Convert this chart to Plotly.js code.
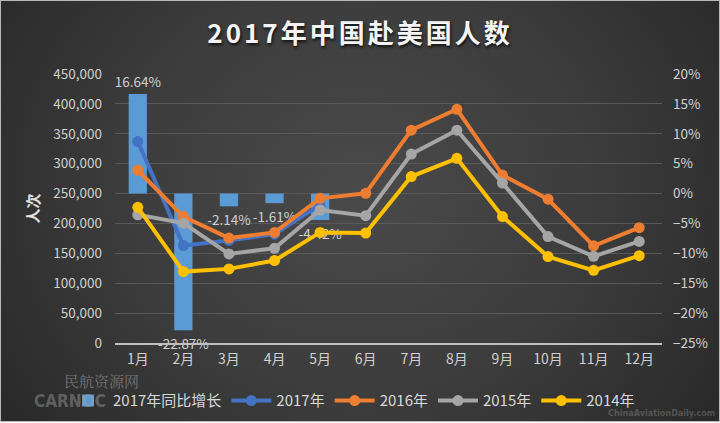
<!DOCTYPE html>
<html>
<head>
<meta charset="utf-8">
<script src="https://cdn.plot.ly/plotly-3.0.1.min.js"></script>
<style>
  html, body { margin: 0; padding: 0; background: #fff; }
  #frame {
    position: absolute; left: 0; top: 0; width: 718px; height: 420px;
    border: 1px solid #b8b8b8;
    background: radial-gradient(ellipse 60% 90% at 50% 45%, #4a4a4a 0%, #3c3c3c 55%, #2a2a2a 100%);
  }
  #chart { width: 718px; height: 420px; }
  .gtitle { letter-spacing: 3px; }
</style>
</head>
<body>
<div id="frame"><div id="chart"></div></div>
<script>
// 月份
var months = ['1月','2月','3月','4月','5月','6月','7月','8月','9月','10月','11月','12月'];

// 2017年同比增长 (%)，只有1-5月
var growth2017 = [16.64, -22.87, -2.14, -1.61, -4.42];

// 各年赴美人数
var y2017 = [337000, 163000, 171500, 182000, 231000];
var y2016 = [289000, 211500, 175500, 185000, 242000, 250500, 356000, 391000, 281000, 240500, 162500, 193000];
var y2015 = [214500, 200500, 149000, 158500, 222500, 213000, 316000, 356000, 267500, 178000, 145000, 170000];
var y2014 = [227000, 119500, 124000, 138000, 185000, 184000, 278500, 309000, 211500, 144500, 121500, 146000];

var gridColor = '#595959';
var tickColor = '#d0d0d0';
var cjk = '"Noto Sans CJK SC", "Noto Sans", sans-serif';
var narrow = '"Liberation Sans Narrow", "DejaVu Sans Condensed", sans-serif';

function lineTrace(name, vals, color) {
  return {
    type: 'scatter', mode: 'lines+markers', name: name,
    x: months.slice(0, vals.length), y: vals, yaxis: 'y2',
    line: { color: color, width: 4 },
    marker: { color: color, size: 11 }
  };
}

var data = [
  {
    type: 'bar', name: '2017年同比增长',
    x: months.slice(0, growth2017.length), y: growth2017,
    marker: { color: '#5b9bd5' },
    texttemplate: '%{y:.2f}%', textposition: 'outside', constraintext: 'none',
    textfont: { color: '#d0d0d0', size: 13.5, family: cjk },
    cliponaxis: false
  },
  lineTrace('2017年', y2017, '#4472c4'),
  lineTrace('2016年', y2016, '#ed7d31'),
  lineTrace('2015年', y2015, '#a5a5a5'),
  lineTrace('2014年', y2014, '#ffc000')
];

var layout = {
  width: 718, height: 420,
  margin: { l: 114, r: 57, t: 73, b: 78, autoexpand: false },
  paper_bgcolor: 'rgba(0,0,0,0)',
  plot_bgcolor: 'rgba(0,0,0,0)',
  font: { family: cjk, color: tickColor, size: 14 },
  title: {
    text: '<b>2017年中国赴美国人数</b>',
    x: 0.5, xanchor: 'center', xref: 'container',
    y: 0.922, yanchor: 'middle',
    font: { size: 26, color: '#f4f4f4', family: cjk, shadow: '1px 2px 3px #111' }
  },
  bargap: 0.6,
  showlegend: true,
  legend: {
    orientation: 'h', x: -0.095, xanchor: 'left',
    y: -0.215, yanchor: 'middle',
    font: { size: 15, color: '#d8d8d8' }, bgcolor: 'rgba(0,0,0,0)',
    itemwidth: 40, tracegroupgap: 0
  },
  xaxis: {
    type: 'category', range: [-0.5, 11.5], showgrid: false, showline: true,
    linecolor: '#bfbfbf', linewidth: 1.5, ticks: '', ticklabelstandoff: 3,
    tickfont: { size: 14, color: tickColor }
  },
  yaxis: {
    side: 'right', range: [-25, 20], dtick: 5, ticksuffix: '%',
    showgrid: false, zeroline: false, showline: false, ticklabelstandoff: 10,
    tickfont: { size: 13.5, color: tickColor }
  },
  yaxis2: {
    overlaying: 'y', side: 'left', range: [0, 450000], dtick: 50000,
    tickformat: ',d', showgrid: true, gridcolor: gridColor, gridwidth: 1,
    zeroline: false, showline: false, ticklen: 0, ticklabelstandoff: 12,
    tickfont: { size: 13.5, color: tickColor },
    title: { text: '<b>人次</b>', font: { size: 15, color: '#e0e0e0' }, standoff: 10 }
  },
  annotations: [
    { xref: 'paper', yref: 'paper', x: -0.097, y: -0.141, xanchor: 'left', yanchor: 'middle', showarrow: false,
      text: '民航资源网', font: { size: 15, color: 'rgba(170,170,170,0.55)', family: '"Noto Serif CJK SC", ' + cjk } },
    { xref: 'paper', yref: 'paper', x: -0.152, y: -0.216, xanchor: 'left', yanchor: 'middle', showarrow: false,
      text: '<b>CARNOC</b>', font: { size: 17, color: 'rgba(160,160,160,0.45)', family: narrow } },
    { xref: 'paper', yref: 'paper', x: 1.1, y: -0.262, xanchor: 'right', yanchor: 'middle', showarrow: false,
      text: '<b>ChinaAviationDaily.com</b>', font: { size: 9, color: 'rgba(160,160,160,0.35)', family: narrow } }
  ]
};

Plotly.newPlot('chart', data, layout, { displayModeBar: false, staticPlot: true });
</script>
</body>
</html>
